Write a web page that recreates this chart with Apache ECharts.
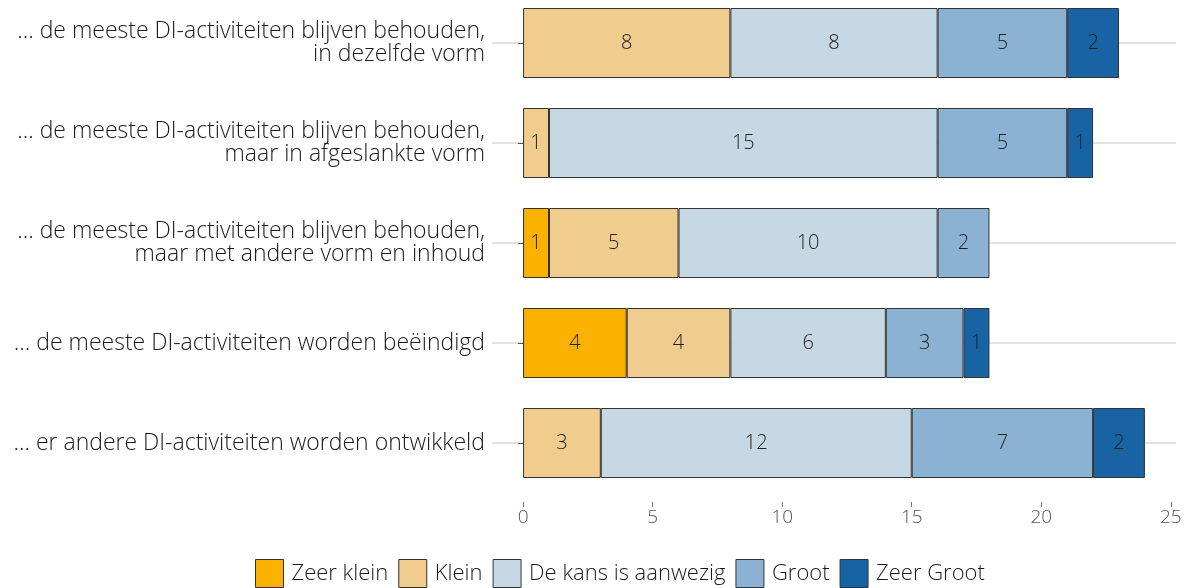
<!DOCTYPE html>
<html>
<head>
<meta charset="utf-8">
<script src="https://cdn.jsdelivr.net/npm/echarts@6/dist/echarts.min.js"></script>
<style>html,body{margin:0;padding:0;background:#fff;overflow:hidden}#c{position:absolute;left:0;top:-7px;width:1189px;height:595px}</style>
</head>
<body>
<div id="c"></div>
<script>
const categories = [
  "... de meeste DI-activiteiten blijven behouden,\nin dezelfde vorm",
  "... de meeste DI-activiteiten blijven behouden,\nmaar in afgeslankte vorm",
  "... de meeste DI-activiteiten blijven behouden,\nmaar met andere vorm en inhoud",
  "... de meeste DI-activiteiten worden beëindigd",
  "... er andere DI-activiteiten worden ontwikkeld"
];
const seriesNames = ["Zeer klein", "Klein", "De kans is aanwezig", "Groot", "Zeer Groot"];
const zeerKlein = [0, 0, 1, 4, 0];
const klein = [8, 1, 5, 4, 3];
const deKans = [8, 15, 10, 6, 12];
const groot = [5, 5, 2, 3, 7];
const zeerGroot = [2, 1, 0, 1, 2];
const xTicks = [0, 5, 10, 15, 20, 25];
const colors = ["#FBB100", "#F0CD8F", "#C7D8E5", "#8BB2D3", "#1763A3"];

const values = [zeerKlein, klein, deKans, groot, zeerGroot];
const FONT = "'Open Sans', 'DejaVu Sans', sans-serif";

const series = values.map((arr, i) => {
  const s = {
    name: seriesNames[i],
    type: 'bar',
    stack: 'total',
    barWidth: 70,
    data: arr.map(v => v === 0 ? null : v),
    itemStyle: { color: colors[i], borderColor: '#333', borderWidth: 1 },
    label: {
      show: true, position: 'inside', color: '#222', fontSize: 20,
      fontFamily: FONT, fontWeight: 300
    },
    emphasis: { disabled: true }
  };
  if (i === 0) {
    s.markLine = {
      silent: true, symbol: 'none', z: 0,
      label: { show: false },
      lineStyle: { color: '#d9d9d9', width: 1.5, type: 'solid' },
      data: categories.map(c => ({ yAxis: c }))
    };
  }
  return s;
});

const chart = echarts.init(document.getElementById('c'));
chart.setOption({
  animation: false,
  textStyle: { fontFamily: FONT },
  grid: { left: 492, right: 13, top: 0, height: 500, containLabel: false },
  xAxis: {
    type: 'value', min: -1.2, max: 25.2, offset: 9,
    axisLine: { show: false },
    splitLine: { show: false },
    axisTick: { show: true, length: 5, lineStyle: { color: '#777' }, customValues: xTicks },
    axisLabel: { color: '#555', fontSize: 19, fontWeight: 300, margin: 6, customValues: xTicks }
  },
  yAxis: {
    type: 'category', data: categories, inverse: true,
    axisLine: { show: false },
    axisTick: { show: true, length: 5, alignWithLabel: true, lineStyle: { color: '#555' } },
    axisLabel: { color: '#1a1a1a', fontSize: 23, fontWeight: 300, margin: 7, align: 'right', lineHeight: 23 }
  },
  legend: {
    bottom: -5, left: 250, itemWidth: 28, itemHeight: 28, itemGap: 10,
    icon: 'rect',
    textStyle: { color: '#1a1a1a', fontSize: 22, fontWeight: 300, padding: [0, 0, 0, 3] },
    data: seriesNames.map((n, i) => ({ name: n, itemStyle: { color: colors[i], borderColor: '#333', borderWidth: 1 } }))
  },
  series: series
});
</script>
</body>
</html>
